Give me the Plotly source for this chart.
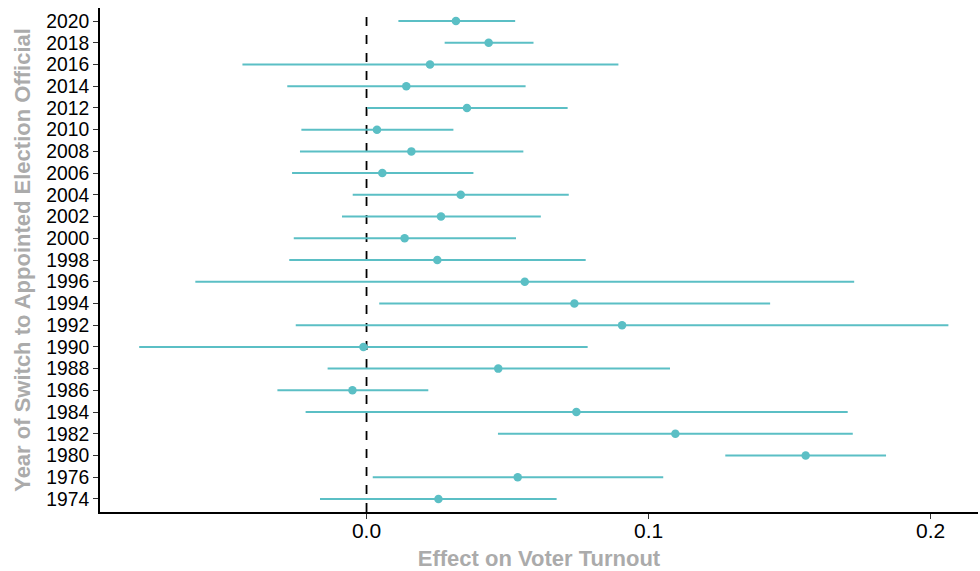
import plotly.graph_objects as go

years = ["1974", "1976", "1980", "1982", "1984", "1986", "1988", "1990", "1992", "1994",
         "1996", "1998", "2000", "2002", "2004", "2006", "2008", "2010", "2012", "2014",
         "2016", "2018", "2020"]
estimate = [0.0255, 0.0536, 0.1557, 0.1095, 0.0744, -0.0050, 0.0467, -0.0011, 0.0906, 0.0737,
            0.0561, 0.0251, 0.0135, 0.0264, 0.0334, 0.0056, 0.0159, 0.0037, 0.0356, 0.0141,
            0.0225, 0.0433, 0.0317]
ci_low = [-0.0165, 0.0022, 0.1272, 0.0466, -0.0216, -0.0316, -0.0138, -0.0806, -0.0251, 0.0045,
          -0.0607, -0.0274, -0.0258, -0.0087, -0.0049, -0.0264, -0.0236, -0.0231, 0.0002, -0.0281,
          -0.0440, 0.0277, 0.0113]
ci_high = [0.0674, 0.1052, 0.1842, 0.1724, 0.1706, 0.0219, 0.1076, 0.0784, 0.2063, 0.1431,
           0.1729, 0.0777, 0.0530, 0.0618, 0.0717, 0.0379, 0.0556, 0.0308, 0.0713, 0.0564,
           0.0893, 0.0592, 0.0527]
x_ticks = [0.0, 0.1, 0.2]
x_tick_labels = ["0.0", "0.1", "0.2"]

teal = "#5BBFC5"
err_plus = [h - e for h, e in zip(ci_high, estimate)]
err_minus = [e - l for e, l in zip(estimate, ci_low)]

fig = go.Figure()
fig.add_trace(go.Scatter(
    x=estimate, y=years, mode="markers",
    marker=dict(color=teal, size=8.5),
    error_x=dict(type="data", array=err_plus, arrayminus=err_minus,
                 color=teal, thickness=2, width=0),
    showlegend=False,
))

fig.add_shape(type="line", x0=0, x1=0, xref="x", y0=0, y1=1, yref="paper",
              line=dict(color="black", width=1.8, dash="dash"), layer="below")

font = "Liberation Sans, Arial, sans-serif"
fs = 22
fig.update_layout(
    width=980, height=571,
    margin=dict(l=100, r=2, t=8, b=59),
    plot_bgcolor="white", paper_bgcolor="white",
    font=dict(family=font, size=fs, color="black"),
    xaxis=dict(
        range=[-0.0945, 0.2168],
        tickmode="array", tickvals=x_ticks, ticktext=x_tick_labels,
        showgrid=False, zeroline=False,
        showline=True, linecolor="black", linewidth=2,
        ticks="outside", ticklen=5, tickwidth=1, tickcolor="#333333",
        ticklabelstandoff=-6,
        tickfont=dict(size=21, color="black"),
        title=dict(text="<b>Effect on Voter Turnout</b>",
                   font=dict(size=fs, color="#ABABAB"), standoff=10),
    ),
    yaxis=dict(
        type="category", categoryorder="array", categoryarray=years,
        tickmode="array", tickvals=years, ticktext=years,
        range=[-0.6, 22.6],
        showgrid=False, zeroline=False,
        showline=True, linecolor="black", linewidth=2,
        ticks="outside", ticklen=5, tickwidth=1, tickcolor="#333333",
        tickfont=dict(size=19.3, color="black"),
        title=dict(text="<b>Year of Switch to Appointed Election Official</b>",
                   font=dict(size=fs, color="#ABABAB"), standoff=10),
    ),
)

fig.write_html("out.html")
